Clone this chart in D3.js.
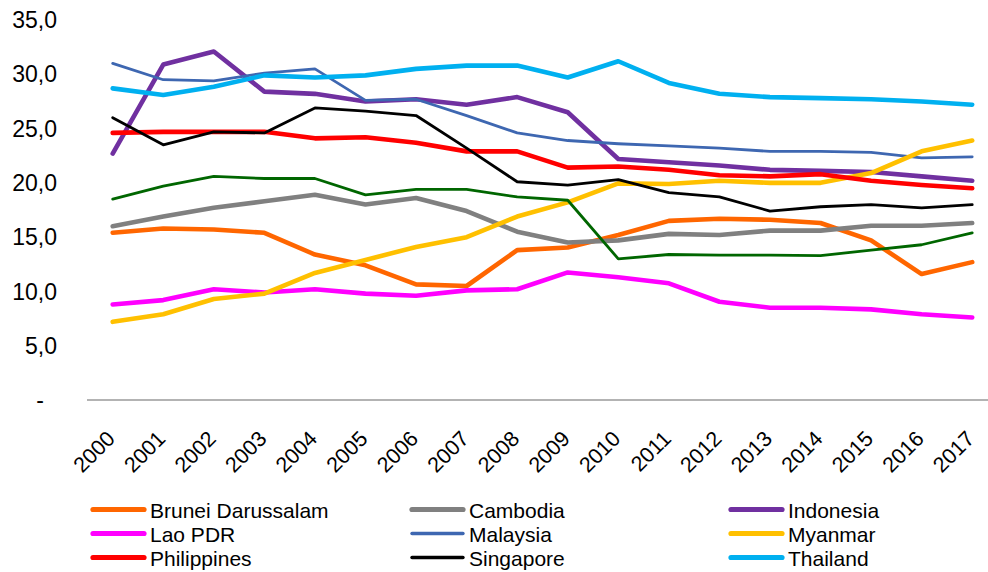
<!DOCTYPE html>
<html>
<head>
<meta charset="utf-8">
<script src="https://cdn.jsdelivr.net/npm/d3@7"></script>
<style>
  html, body { margin: 0; padding: 0; background: #fff; }
  svg { display: block; font-family: "Liberation Sans", Arial, sans-serif; }
</style>
</head>
<body>
<svg id="chart" width="988" height="572"></svg>
<script>
const years = ["2000","2001","2002","2003","2004","2005","2006","2007","2008","2009","2010","2011","2012","2013","2014","2015","2016","2017"];

const brunei      = [15.4,15.8,15.7,15.4,13.4,12.4,10.65,10.5,13.8,14.05,15.2,16.5,16.7,16.6,16.3,14.7,11.6,12.7];
const cambodia    = [16.0,16.9,17.7,18.3,18.9,18.0,18.6,17.4,15.5,14.5,14.7,15.3,15.2,15.6,15.6,16.05,16.05,16.3];
const indonesia   = [22.7,30.9,32.1,28.4,28.2,27.5,27.7,27.2,27.9,26.5,22.2,21.9,21.6,21.2,21.1,21.0,20.6,20.2];
const laoPDR      = [8.8,9.2,10.2,9.9,10.2,9.8,9.6,10.1,10.2,11.75,11.3,10.75,9.05,8.5,8.5,8.35,7.9,7.6];
const malaysia    = [31.0,29.5,29.4,30.1,30.5,27.6,27.7,26.2,24.6,23.9,23.6,23.4,23.2,22.9,22.9,22.8,22.3,22.4];
const myanmar     = [7.2,7.9,9.3,9.8,11.7,12.9,14.1,15.0,16.9,18.2,19.95,19.9,20.2,20.0,20.0,20.9,22.9,23.9];
const philippines = [24.6,24.7,24.7,24.7,24.1,24.2,23.7,22.9,22.9,21.4,21.5,21.2,20.7,20.6,20.8,20.2,19.8,19.5];
const singapore   = [26.0,23.5,24.7,24.6,26.9,26.6,26.2,23.2,20.1,19.8,20.3,19.1,18.7,17.4,17.8,18.0,17.7,18.0];
const thailand    = [28.7,28.1,28.85,29.9,29.7,29.9,30.5,30.8,30.8,29.7,31.2,29.2,28.2,27.9,27.8,27.7,27.5,27.2];
const vietNam     = [18.5,19.7,20.6,20.4,20.4,18.9,19.4,19.4,18.7,18.4,13.0,13.4,13.35,13.35,13.3,13.8,14.3,15.4];

const seriesNames  = ["Brunei Darussalam","Cambodia","Indonesia","Lao PDR","Malaysia","Myanmar","Philippines","Singapore","Thailand","Viet Nam"];
const seriesValues = [brunei,cambodia,indonesia,laoPDR,malaysia,myanmar,philippines,singapore,thailand,vietNam];
const seriesColors = ["#FF6600","#808080","#7030A0","#FF00FF","#3E67B1","#FFC000","#FF0000","#000000","#00B0F0","#006600"];
const seriesWidths = [4.6,4.6,4.6,4.6,2.8,4.6,4.6,2.8,4.6,2.8];
const legendNames  = ["Brunei Darussalam","Cambodia","Indonesia","Lao PDR","Malaysia","Myanmar","Philippines","Singapore","Thailand"];

const yTicks = [0,5,10,15,20,25,30,35];
const yTickLabels = ["-","5,0","10,0","15,0","20,0","25,0","30,0","35,0"];

const svg = d3.select("#chart");

const x = d3.scalePoint().domain(years).range([112.7, 972.2]);
const y = d3.scaleLinear().domain([0, 35]).range([400, 20]);

// y axis labels
const yAxis = d3.axisLeft(y).tickValues(yTicks)
  .tickFormat((d, i) => yTickLabels[i]).tickSize(0).tickPadding(0);
const gy = svg.append("g").attr("transform", "translate(57,0)").call(yAxis);
gy.select(".domain").remove();
gy.selectAll("text")
  .attr("font-family", "Liberation Sans, Arial, sans-serif")
  .attr("font-size", 23).attr("fill", "#000").attr("dy", "0.33em")
  .attr("x", d => d === 0 ? -13 : 0);

// x axis line + rotated labels
const xAxis = d3.axisBottom(x).tickSize(0).tickPadding(0);
const gx = svg.append("g").attr("transform", "translate(0,400)").call(xAxis);
gx.select(".domain").remove();
gx.selectAll("text")
  .attr("font-family", "Liberation Sans, Arial, sans-serif")
  .attr("font-size", 21.5).attr("fill", "#000")
  .attr("text-anchor", "end")
  .attr("dy", 0)
  .attr("y", 0)
  .attr("transform", "translate(3,40) rotate(-45)");
svg.append("line")
  .attr("x1", 87).attr("x2", 988).attr("y1", y(0)).attr("y2", y(0))
  .attr("stroke", "#9a9a9a").attr("stroke-width", 1.3);

// lines
const line = d3.line().x((d, i) => x(years[i])).y(d => y(d));
svg.append("g").selectAll("path")
  .data(seriesValues)
  .join("path")
  .attr("d", d => line(d))
  .attr("fill", "none")
  .attr("stroke", (d, i) => seriesColors[i])
  .attr("stroke-width", (d, i) => seriesWidths[i])
  .attr("stroke-linejoin", "round")
  .attr("stroke-linecap", "round");

// legend
const legendCols = [91, 410, 729];
const legendRows = [509.5, 533.5, 557.5];
const lg = svg.append("g");
legendNames.forEach((name, k) => {
  const idx = seriesNames.indexOf(name);
  const cx = legendCols[k % 3];
  const cy = legendRows[Math.floor(k / 3)];
  lg.append("line")
    .attr("x1", cx + 2).attr("x2", cx + 53).attr("y1", cy).attr("y2", cy)
    .attr("stroke", seriesColors[idx])
    .attr("stroke-width", seriesWidths[idx] + 0.6)
    .attr("stroke-linecap", "round");
  lg.append("text")
    .attr("x", cx + 59).attr("y", cy + 8)
    .attr("font-size", 21).attr("fill", "#000")
    .text(name);
});
</script>
</body>
</html>
